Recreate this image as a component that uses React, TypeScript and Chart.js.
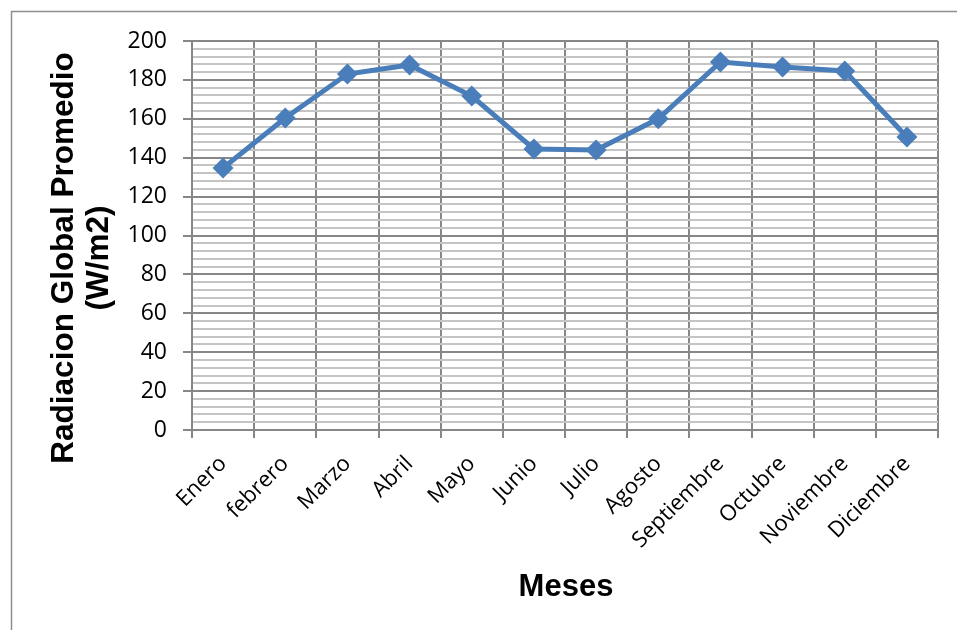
import { useEffect, useRef } from "react";
import { Chart, registerables } from "chart.js";

Chart.register(...registerables);

const months = [
  "Enero",
  "febrero",
  "Marzo",
  "Abril",
  "Mayo",
  "Junio",
  "Julio",
  "Agosto",
  "Septiembre",
  "Octubre",
  "Noviembre",
  "Diciembre",
];
const radiation = [134.7, 160.4, 183.0, 187.7, 171.7, 144.5, 144.0, 160.0, 189.2, 186.6, 184.6, 150.6];
const yTitleLines = ["Radiacion Global Promedio", "(W/m2)"];
const xTitle = "Meses";

const LINE_BLUE = "#4a7ebb";
const MAJOR = "#878787";
const MINOR = "#c4c4c4";

const decor = {
  id: "decor",
  beforeDraw(chart: any) {
    const ctx = chart.ctx;
    ctx.save();
    ctx.strokeStyle = "#8e8e8e";
    ctx.lineWidth = 1.5;
    ctx.strokeRect(11.5, 11.5, 980, 660);
    ctx.restore();
  },
  afterDraw(chart: any) {
    const ctx = chart.ctx;
    ctx.save();
    ctx.fillStyle = "#000";
    ctx.font = "bold 31.5px 'Liberation Sans', Arial, sans-serif";
    ctx.textAlign = "center";
    ctx.textBaseline = "alphabetic";
    const cy = 258;
    const baselines = [73, 108];
    yTitleLines.forEach((t, i) => {
      ctx.save();
      ctx.translate(baselines[i], cy);
      ctx.rotate(-Math.PI / 2);
      ctx.fillText(t, 0, 0);
      ctx.restore();
    });
    ctx.font = "bold 31px 'Liberation Sans', Arial, sans-serif";
    ctx.fillText(xTitle, 566, 596);
    ctx.restore();
  },
};

export default function App() {
  const ref = useRef<HTMLCanvasElement | null>(null);
  useEffect(() => {
    if (!ref.current) return;
    const chart = new Chart(ref.current, {
      type: "line",
      data: {
        labels: months,
        datasets: [
          {
            data: radiation,
            borderColor: LINE_BLUE,
            backgroundColor: LINE_BLUE,
            borderWidth: 5,
            pointStyle: "rectRot",
            pointRadius: 10.5,
            pointBorderWidth: 0,
            pointBackgroundColor: LINE_BLUE,
            tension: 0,
          },
        ],
      },
      options: {
        animation: false,
        responsive: false,
        maintainAspectRatio: false,
        layout: { padding: { top: 41, right: 19, left: 0, bottom: 0 } },
        plugins: {
          legend: { display: false },
          tooltip: { enabled: false },
          title: { display: false },
        },
        scales: {
          x: {
            type: "category",
            offset: true,
            afterFit: (s: any) => {
              s.height = 200;
            },
            grid: {
              offset: true,
              color: MAJOR,
              lineWidth: 2,
              tickLength: 8,
              tickColor: MAJOR,
              tickWidth: 2,
            },
            border: { color: MAJOR, width: 2 },
            ticks: {
              autoSkip: false,
              maxRotation: 45,
              minRotation: 45,
              color: "#000",
              padding: 13,
              font: { family: "'Open Sans', sans-serif", size: 22 },
            },
          },
          y: {
            min: 0,
            max: 200,
            afterFit: (s: any) => {
              s.width = 192;
            },
            grid: {
              color: (c: any) => (c.tick && c.tick.value % 20 === 0 ? MAJOR : MINOR),
              lineWidth: 2,
              tickLength: 9,
              tickColor: (c: any) => (c.tick && c.tick.value % 20 === 0 ? MAJOR : "rgba(0,0,0,0)"),
              tickWidth: 2,
            },
            border: { color: MAJOR, width: 2 },
            ticks: {
              stepSize: 4,
              autoSkip: false,
              color: "#000",
              padding: 16,
              font: { family: "'Open Sans', sans-serif", size: 23 },
              callback: (v: any) => (Number(v) % 20 === 0 ? String(v) : ""),
            },
          },
        },
      },
      plugins: [decor],
    });
    return () => chart.destroy();
  }, []);
  return (
    <div style={{ position: "fixed", left: 0, top: 0, width: 957, height: 630, background: "#fff" }}>
      <canvas ref={ref} width={957} height={630} style={{ width: 957, height: 630, display: "block" }} />
    </div>
  );
}
